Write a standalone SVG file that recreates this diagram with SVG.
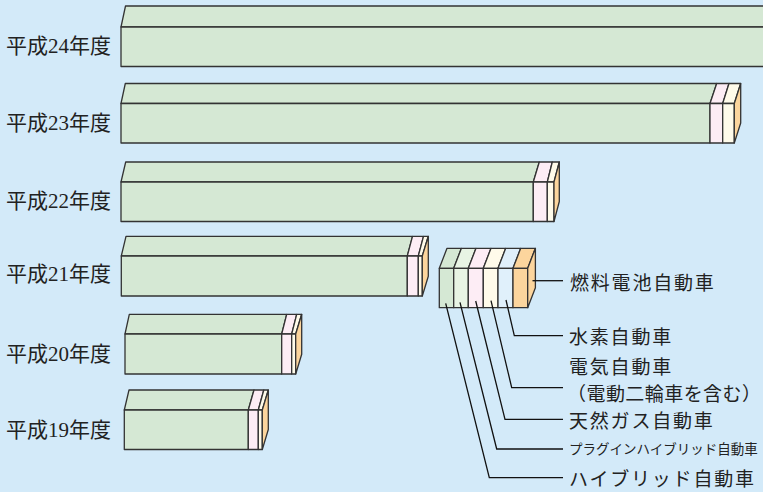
<svg xmlns="http://www.w3.org/2000/svg" width="763" height="492" viewBox="0 0 763 492">
<style>
  .f{stroke:#333;stroke-width:1.3;stroke-linejoin:round}
  .g{fill:#d5e8d4}
  .lg{fill:#e8f4e4}
  .p{fill:#fdedf5}
  .c{fill:#fffbea}
  .b{fill:#e0f0fb}
  .o{fill:#fcd59d}
  .yr{font-family:"Liberation Serif","Noto Sans CJK JP",serif;font-size:21px;fill:#222}
  .lb{font-family:"Noto Sans CJK JP","Noto Sans",sans-serif;font-size:19px;letter-spacing:1.8px;fill:#222}
  .cn{fill:none;stroke:#111;stroke-width:1.3}
</style>
<rect width="763" height="492" fill="#d3eaf9"/>

<g id="bar-h24">
  <polygon class="f g" points="121,27 125.5,6 770,6 770,27"/>
  <rect class="f g" x="121" y="27" width="649" height="39.5"/>
  <text class="yr" x="6" y="53">平成24年度</text>
</g>

<g id="bar-h23">
  <polygon class="f g" points="121,103.5 125.3,83.5 716.7,83.5 710,103.5"/>
  <polygon class="f p" points="710,103.5 716.7,83.5 729,83.5 722.7,103.5"/>
  <polygon class="f c" points="722.7,103.5 729,83.5 740.7,83.5 734.3,103.5"/>
  <rect class="f g" x="121" y="103.5" width="589" height="39.5"/>
  <rect class="f p" x="710" y="103.5" width="12.7" height="39.5"/>
  <rect class="f c" x="722.7" y="103.5" width="11.6" height="39.5"/>
  <polygon class="f o" points="734.3,103.5 740.7,83.5 740.7,123 734.3,143"/>
  <text class="yr" x="6" y="130">平成23年度</text>
</g>

<g id="bar-h22">
  <polygon class="f g" points="121,182 125.7,162 539.3,162 533.3,182"/>
  <polygon class="f p" points="533.3,182 539.3,162 552.3,162 547.3,182"/>
  <polygon class="f c" points="547.3,182 552.3,162 559.3,162 554,182"/>
  <rect class="f g" x="121" y="182" width="412.3" height="39.5"/>
  <rect class="f p" x="533.3" y="182" width="14" height="39.5"/>
  <rect class="f c" x="547.3" y="182" width="6.7" height="39.5"/>
  <polygon class="f o" points="554,182 559.3,162 559.3,201.5 554,221.5"/>
  <text class="yr" x="6" y="208">平成22年度</text>
</g>

<g id="bar-h21">
  <polygon class="f g" points="121.3,256 126,236.3 412.5,236.3 407.3,256"/>
  <polygon class="f p" points="407.3,256 412.5,236.3 423.5,236.3 418.3,256"/>
  <polygon class="f c" points="418.3,256 423.5,236.3 428.3,236.3 422.3,256"/>
  <rect class="f g" x="121.3" y="256" width="286" height="40"/>
  <rect class="f p" x="407.3" y="256" width="11" height="40"/>
  <rect class="f c" x="418.3" y="256" width="4" height="40"/>
  <polygon class="f o" points="422.3,256 428.3,236.3 428.3,276.3 422.3,296"/>
  <text class="yr" x="6" y="281">平成21年度</text>
</g>

<g id="bar-h20">
  <polygon class="f g" points="125,334 129.3,314.3 286.7,314.3 281.7,334"/>
  <polygon class="f p" points="281.7,334 286.7,314.3 296.7,314.3 291.7,334"/>
  <polygon class="f c" points="291.7,334 296.7,314.3 301.7,314.3 295.7,334"/>
  <rect class="f g" x="125" y="334" width="156.7" height="40"/>
  <rect class="f p" x="281.7" y="334" width="10" height="40"/>
  <rect class="f c" x="291.7" y="334" width="4" height="40"/>
  <polygon class="f o" points="295.7,334 301.7,314.3 301.7,354.3 295.7,374"/>
  <text class="yr" x="6" y="361">平成20年度</text>
</g>

<g id="bar-h19">
  <polygon class="f g" points="124.3,410 129,390 254,390 248.3,410"/>
  <polygon class="f p" points="248.3,410 254,390 263.8,390 258.3,410"/>
  <polygon class="f c" points="258.3,410 263.8,390 268.3,390 262.3,410"/>
  <rect class="f g" x="124.3" y="410" width="124" height="39.5"/>
  <rect class="f p" x="248.3" y="410" width="10" height="39.5"/>
  <rect class="f c" x="258.3" y="410" width="4" height="39.5"/>
  <polygon class="f o" points="262.3,410 268.3,390 268.3,429.5 262.3,449.5"/>
  <text class="yr" x="6" y="437">平成19年度</text>
</g>

<g id="legend">
  <polygon class="f g" points="439.3,268.3 447,248.3 461.4,248.3 453.7,268.3"/>
  <polygon class="f lg" points="453.7,268.3 461.4,248.3 476,248.3 468.3,268.3"/>
  <polygon class="f p" points="468.3,268.3 476,248.3 491,248.3 483.3,268.3"/>
  <polygon class="f c" points="483.3,268.3 491,248.3 505.7,248.3 498,268.3"/>
  <polygon class="f b" points="498,268.3 505.7,248.3 520.7,248.3 513,268.3"/>
  <polygon class="f o" points="513,268.3 520.7,248.3 535.4,248.3 527.7,268.3"/>
  <rect class="f g" x="439.3" y="268.3" width="14.4" height="39.4"/>
  <rect class="f lg" x="453.7" y="268.3" width="14.6" height="39.4"/>
  <rect class="f p" x="468.3" y="268.3" width="15" height="39.4"/>
  <rect class="f c" x="483.3" y="268.3" width="14.7" height="39.4"/>
  <rect class="f b" x="498" y="268.3" width="15" height="39.4"/>
  <rect class="f o" x="513" y="268.3" width="14.7" height="39.4"/>
  <polygon class="f o" points="527.7,268.3 535.4,248.3 535.4,287.7 527.7,307.7"/>
</g>

<g id="connectors">
  <polyline class="cn" points="532.5,280.7 563,280.7"/>
  <polyline class="cn" points="506,300 514.3,335.7 563,335.7"/>
  <polyline class="cn" points="491,300.7 511.7,387.7 563,387.7"/>
  <polyline class="cn" points="475.7,301 505,419.3 563,419.3"/>
  <polyline class="cn" points="460,302.3 496.7,449 563,449"/>
  <polyline class="cn" points="445.7,303.3 489.3,477.7 563,477.7"/>
</g>

<g id="legend-labels">
  <text class="lb" x="570" y="290">燃料電池自動車</text>
  <text class="lb" x="569" y="344">水素自動車</text>
  <text class="lb" x="569" y="374">電気自動車</text>
  <text class="lb" x="567" y="401" style="letter-spacing:0" textLength="194" lengthAdjust="spacing">（電動二輪車を含む）</text>
  <text class="lb" x="569" y="427.5">天然ガス自動車</text>
  <text class="lb" x="569" y="453.5" style="font-size:13.5px;letter-spacing:0">プラグインハイブリッド自動車</text>
  <text class="lb" x="569" y="486">ハイブリッド自動車</text>
</g>
</svg>
